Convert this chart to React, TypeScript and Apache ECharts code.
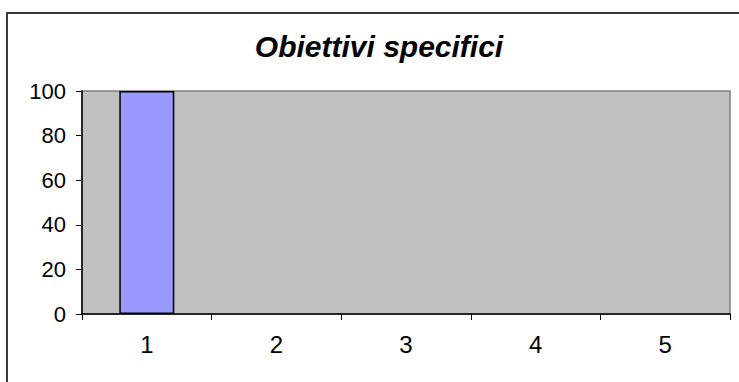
import React, { useEffect, useRef } from "react";
import * as echarts from "echarts";

const categories = ["1", "2", "3", "4", "5"];
const values: (number | null)[] = [100, null, null, null, null];
const yMin = 0;
const yMax = 100;
const yStep = 20;
const titleText = "Obiettivi specifici";

export default function App() {
  const ref = useRef<HTMLDivElement>(null);
  useEffect(() => {
    if (!ref.current) return;
    const chart = echarts.init(ref.current, undefined, { renderer: "svg" });
    const font = "'Liberation Sans', Arial, sans-serif";
    chart.setOption({
      animation: false,
      backgroundColor: "#ffffff",
      title: {
        text: titleText,
        left: 374,
        top: 26,
        textAlign: "center",
        textStyle: {
          fontFamily: font,
          fontSize: 30,
          fontWeight: "bold",
          fontStyle: "italic",
          color: "#000",
        },
      },
      graphic: [
        {
          type: "rect",
          shape: { x: 7, y: 13, width: 800, height: 500 },
          style: { fill: "none", stroke: "#3a3a3a", lineWidth: 2 },
          silent: true,
        },
      ],
      grid: {
        left: 82,
        right: 9,
        top: 91,
        bottom: 68,
        show: true,
        backgroundColor: "#C0C0C0",
        borderColor: "#808080",
        borderWidth: 1.5,
      },
      xAxis: {
        type: "category",
        data: categories,
        axisLine: { lineStyle: { color: "#000", width: 1.5 } },
        axisTick: { show: true, length: 6, lineStyle: { color: "#000" } },
        axisLabel: { color: "#000", fontFamily: font, fontSize: 24, margin: 18 },
      },
      yAxis: {
        type: "value",
        min: yMin,
        max: yMax,
        interval: yStep,
        axisLine: { show: true, lineStyle: { color: "#000", width: 1.5 } },
        axisTick: { show: true, length: 6, lineStyle: { color: "#000" } },
        axisLabel: { color: "#000", fontFamily: font, fontSize: 22, margin: 16 },
        splitLine: { show: false },
      },
      series: [
        {
          type: "bar",
          data: values,
          barWidth: 55,
          itemStyle: { color: "#9999FF", borderColor: "#000", borderWidth: 1.5 },
        },
      ],
    });
    return () => chart.dispose();
  }, []);
  return (
    <div
      ref={ref}
      style={{ position: "fixed", left: 0, top: 0, width: 739, height: 382 }}
    />
  );
}
